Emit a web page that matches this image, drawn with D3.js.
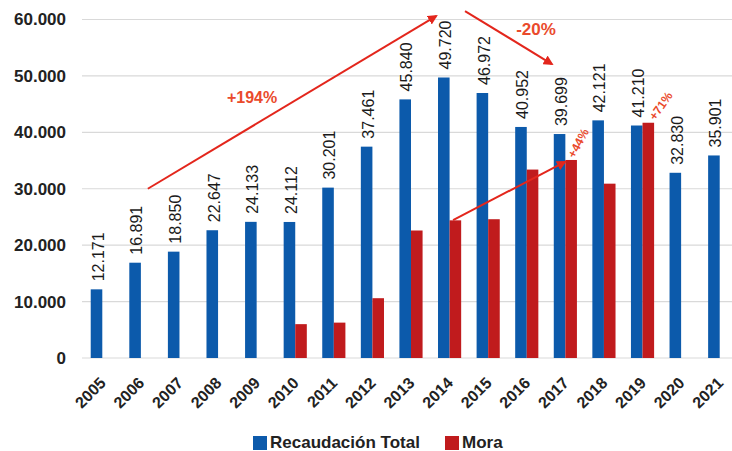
<!DOCTYPE html>
<html>
<head>
<meta charset="utf-8">
<script src="https://cdn.jsdelivr.net/npm/d3@7"></script>
<style>
  html, body { margin: 0; padding: 0; background: #fff; }
  svg { display: block; font-family: "Liberation Sans", Arial, sans-serif; }
</style>
</head>
<body>
<svg id="chart" width="732" height="451"></svg>
<script>
// Years on the category axis
const years = ["2005","2006","2007","2008","2009","2010","2011","2012","2013",
               "2014","2015","2016","2017","2018","2019","2020","2021"];
// Total collection (Recaudación Total)
const recaudacion = [12171,16891,18850,22647,24133,24112,30201,37461,45840,
                     49720,46972,40952,39699,42121,41210,32830,35901];
// Arrears (Mora); null where no value is reported
const mora = [null,null,null,null,null,6000,6270,10600,22600,
              24400,24600,33400,35100,30900,41700,null,null];
// Y axis tick values
const yTicks = [0,10000,20000,30000,40000,50000,60000];
const seriesNames = ["Recaudación Total","Mora"];
const seriesColors = ["#0c5aab","#c01b1d"];

// Trend annotations, expressed in (year, value) coordinates
const arrows = [
  { from: [2006.18, 30000], to: [2013.65, 60600] },
  { from: [2014.4, 61500],  to: [2016.65, 52100] },
  { from: [2014.09, 24450], to: [2016.99, 34750] }
];
const notes = [
  { text: "+194%", at: [2008.88, 46300], angle: 0,   size: 16 },
  { text: "-20%",  at: [2016.24, 58300], angle: 0,   size: 17 },
  { text: "+44%",  at: [2017.33, 38100], angle: -62, size: 12 },
  { text: "+71%",  at: [2019.47, 44700], angle: -55, size: 12 }
];

const svg = d3.select("#chart");
const fmt = d3.formatLocale({ decimal: ",", thousands: ".", grouping: [3], currency: ["", ""] }).format(",d");

const x = d3.scaleBand().domain(years).range([83, 739]).paddingInner(0.4).paddingOuter(0.2);
const xSub = d3.scaleBand().domain(seriesNames).range([0, x.bandwidth()]);
const y = d3.scaleLinear().domain([0, 60000]).range([358, 19.5]);
// continuous year position (band centres) for annotations
const xYear = d3.scaleLinear()
  .domain([2005, 2021])
  .range([x("2005") + x.bandwidth() / 2, x("2021") + x.bandwidth() / 2]);

// Gridlines
svg.append("g")
  .selectAll("line")
  .data(yTicks)
  .join("line")
  .attr("x1", 82).attr("x2", 732)
  .attr("y1", d => y(d)).attr("y2", d => y(d))
  .attr("stroke", "#d9d9d9").attr("stroke-width", 1.2);

// Y axis labels
const yAxis = d3.axisLeft(y).tickValues(yTicks).tickFormat(fmt).tickSize(0).tickPadding(0);
const gy = svg.append("g").attr("transform", "translate(66,0)").call(yAxis);
gy.select(".domain").remove();
gy.selectAll("text")
  .attr("font-size", 17).attr("font-weight", "bold").attr("fill", "#222")
  .attr("font-family", "Liberation Sans, Arial, sans-serif");

// X axis labels, slanted
svg.append("g").selectAll("text")
  .data(years)
  .join("text")
  .attr("transform", d => `translate(${x(d) + x.bandwidth() / 2 + 4.5},384) rotate(-45)`)
  .attr("text-anchor", "end")
  .attr("font-size", 16).attr("font-weight", "bold").attr("fill", "#222")
  .text(d => d);

// Bars
const rows = years.map((yr, i) => ({ year: yr, values: [recaudacion[i], mora[i]] }));
const groups = svg.append("g").selectAll("g")
  .data(rows)
  .join("g")
  .attr("transform", d => `translate(${x(d.year)},0)`);

groups.selectAll("rect")
  .data(d => d.values.map((v, j) => ({ key: seriesNames[j], v, j })).filter(e => e.v != null))
  .join("rect")
  .attr("x", d => xSub(d.key))
  .attr("width", xSub.bandwidth())
  .attr("y", d => y(d.v))
  .attr("height", d => y(0) - y(d.v))
  .attr("fill", d => seriesColors[d.j]);

// Value labels on the total-collection bars
groups.append("text")
  .attr("transform", d => `translate(${xSub(seriesNames[0]) + xSub.bandwidth() / 2 + 1.5},${y(d.values[0]) - 8}) rotate(-90)`)
  .attr("dy", "0.36em")
  .attr("font-size", 16)
  .attr("fill", "#1a1a1a")
  .text(d => fmt(d.values[0]));

// Arrow markers
const defs = svg.append("defs");
defs.append("marker")
  .attr("id", "head")
  .attr("viewBox", "0 0 10 10")
  .attr("refX", 8).attr("refY", 5)
  .attr("markerWidth", 5).attr("markerHeight", 5)
  .attr("orient", "auto")
  .append("path").attr("d", "M0,0L10,5L0,10z").attr("fill", "#e3261c");

svg.append("g").selectAll("line")
  .data(arrows)
  .join("line")
  .attr("x1", d => xYear(d.from[0])).attr("y1", d => y(d.from[1]))
  .attr("x2", d => xYear(d.to[0])).attr("y2", d => y(d.to[1]))
  .attr("stroke", "#e3261c").attr("stroke-width", 2)
  .attr("marker-end", "url(#head)");

svg.append("g").selectAll("text")
  .data(notes)
  .join("text")
  .attr("transform", d => `translate(${xYear(d.at[0])},${y(d.at[1])}) rotate(${d.angle})`)
  .attr("text-anchor", "middle")
  .attr("dy", "0.36em")
  .attr("font-size", d => d.size)
  .attr("font-weight", "bold")
  .attr("fill", "#ea4a2c")
  .text(d => d.text);

// Legend
const legend = svg.append("g");
const legendX = [253, 445];
seriesNames.forEach((name, i) => {
  legend.append("rect")
    .attr("x", legendX[i]).attr("y", 436)
    .attr("width", 14).attr("height", 14)
    .attr("fill", seriesColors[i]);
  legend.append("text")
    .attr("x", legendX[i] + 17).attr("y", 448)
    .attr("font-size", 17).attr("font-weight", "bold").attr("fill", "#222")
    .text(name);
});
</script>
</body>
</html>
